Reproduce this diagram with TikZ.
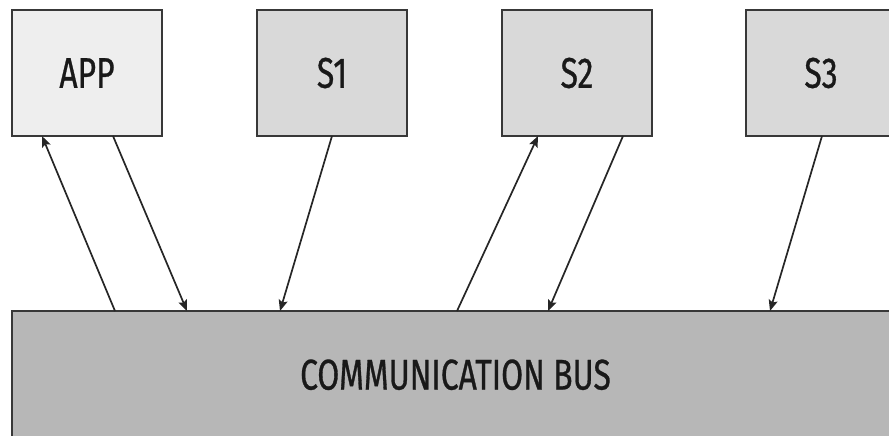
\documentclass[tikz,border=0pt]{standalone}
\usepackage{fontspec}
\setmainfont[FakeStretch=0.74,FakeBold=0.7]{Fira Sans}
\usetikzlibrary{arrows.meta}
\definecolor{appfill}{HTML}{EEEEEE}
\definecolor{svcfill}{HTML}{D9D9D9}
\definecolor{busfill}{HTML}{B7B7B7}
\definecolor{edge}{HTML}{383838}
\tikzset{
  unit/.style={draw=edge, line width=1.6pt, minimum width=150pt, minimum height=126pt,
    inner sep=0pt, outer sep=0pt, font=\fontsize{43}{43}\selectfont, text=black!90},
  arr/.style={draw=black!85, line width=1.7pt, -{Stealth[length=11pt,width=9pt,inset=2pt]}}
}
\begin{document}
\begin{tikzpicture}[x=1pt,y=-1pt]
\useasboundingbox (0,0) rectangle (889,436);
\clip (0,0) rectangle (889,436);
% client application and services
\node[unit, fill=appfill] (app) at (87,73) {APP};
\node[unit, fill=svcfill] (s1) at (332,73) {S1};
\node[unit, fill=svcfill] (s2) at (577,73) {S2};
\node[unit, fill=svcfill] (s3) at (821,73) {S3};
% shared bus
\node[unit, fill=busfill, minimum width=887pt, minimum height=128pt] (bus) at (455.5,375) {\raisebox{1pt}{COMMUNICATION BUS}};
% links between the units and the bus
\draw[arr] ([xshift=103pt]bus.north west) -- ([xshift=30pt]app.south west);
\draw[arr] ([xshift=101pt]app.south west) -- ([xshift=175pt]bus.north west);
\draw[arr] ([xshift=75pt]s1.south west) -- ([xshift=268pt]bus.north west);
\draw[arr] ([xshift=445pt]bus.north west) -- ([xshift=36pt]s2.south west);
\draw[arr] ([xshift=121pt]s2.south west) -- ([xshift=536pt]bus.north west);
\draw[arr] ([xshift=76pt]s3.south west) -- ([xshift=758pt]bus.north west);
\end{tikzpicture}
\end{document}
